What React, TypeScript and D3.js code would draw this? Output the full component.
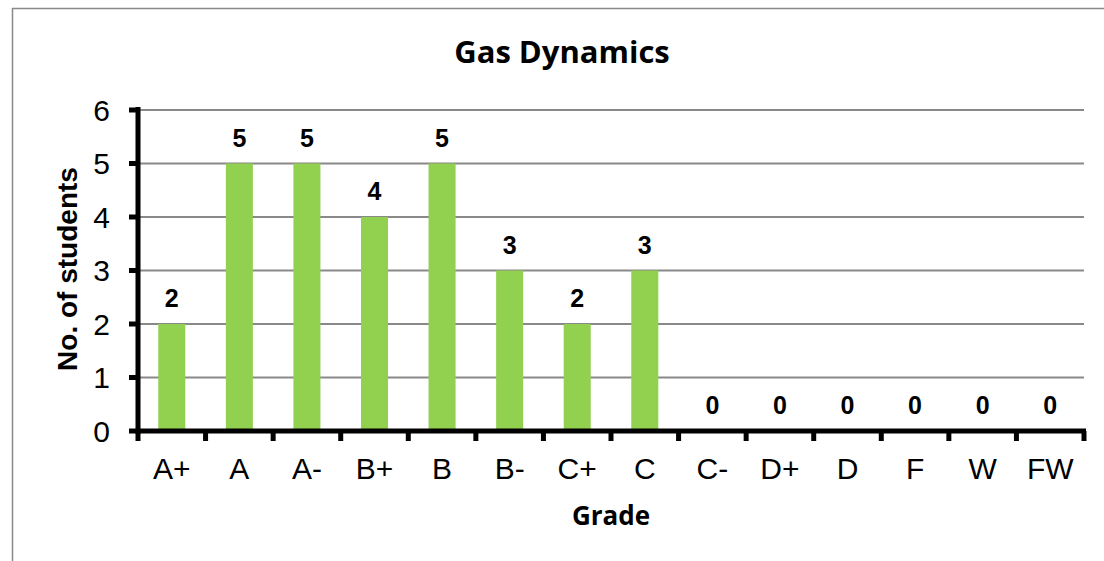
import * as React from 'react'
import * as d3 from 'd3'

const grades = ['A+', 'A', 'A-', 'B+', 'B', 'B-', 'C+', 'C', 'C-', 'D+', 'D', 'F', 'W', 'FW']
const students = [2, 5, 5, 4, 5, 3, 2, 3, 0, 0, 0, 0, 0, 0]
const yTicks = [0, 1, 2, 3, 4, 5, 6]

const W = 1104
const H = 561
const left = 138
const right = 1084
const top = 110
const bottom = 431

const sans = '"Liberation Sans", Arial, sans-serif'
const calibri = '"Open Sans", Lato, sans-serif'

export default function App() {
  const x = d3.scaleBand<string>().domain(grades).range([left, right]).paddingInner(0.6).paddingOuter(0.3)
  const y = d3.scaleLinear().domain([0, 6]).range([bottom, top])
  const step = x.step()
  const bounds = d3.range(grades.length + 1).map((i) => left + i * step)

  return (
    <div style={{ position: 'absolute', left: 0, top: 0 }}>
      <svg width={W} height={H} style={{ display: 'block', background: '#fff' }}>
        <rect x={12.5} y={8.5} width={1200} height={700} fill="#fff" stroke="#898989" strokeWidth={1.5} />

        <text x={562} y={63} textAnchor="middle" fontFamily={calibri} fontWeight="bold" fontSize={31} fill="#000">
          Gas Dynamics
        </text>

        {/* gridlines */}
        {yTicks.slice(1).map((t) => (
          <line key={t} x1={left} x2={right} y1={y(t)} y2={y(t)} stroke="#898989" strokeWidth={2} />
        ))}

        {/* bars */}
        {grades.map((g, i) => (
          <rect
            key={g}
            x={x(g)}
            y={y(students[i])}
            width={x.bandwidth()}
            height={bottom - y(students[i])}
            fill="#92D050"
          />
        ))}

        {/* data labels */}
        {grades.map((g, i) => (
          <text
            key={g}
            x={(x(g) ?? 0) + x.bandwidth() / 2}
            y={y(students[i]) - 17}
            textAnchor="middle"
            fontFamily={sans}
            fontWeight="bold"
            fontSize={25}
            fill="#000"
          >
            {students[i]}
          </text>
        ))}

        {/* y axis */}
        <line x1={left} x2={left} y1={top - 3} y2={bottom + 3} stroke="#000" strokeWidth={5} />
        {yTicks.map((t) => (
          <g key={t}>
            <line x1={left - 9} x2={left} y1={y(t)} y2={y(t)} stroke="#000" strokeWidth={5} />
            <text
              x={110}
              y={y(t)}
              dy="0.36em"
              textAnchor="end"
              fontFamily={sans}
              fontSize={30}
              fill="#000"
            >
              {t}
            </text>
          </g>
        ))}

        {/* x axis */}
        <line x1={left} x2={right + 2} y1={bottom} y2={bottom} stroke="#000" strokeWidth={5} />
        {bounds.map((b, i) => (
          <line key={i} x1={b} x2={b} y1={bottom} y2={bottom + 10} stroke="#000" strokeWidth={5} />
        ))}
        {grades.map((g) => (
          <text
            key={g}
            x={(x(g) ?? 0) + x.bandwidth() / 2}
            y={479}
            textAnchor="middle"
            fontFamily={sans}
            fontSize={30}
            fill="#000"
          >
            {g}
          </text>
        ))}

        <text x={611} y={525} textAnchor="middle" fontFamily={calibri} fontWeight="bold" fontSize={26} fill="#000">
          Grade
        </text>
        <text
          transform={`translate(77,269) rotate(-90)`}
          textAnchor="middle"
          fontFamily={sans}
          fontWeight="bold"
          fontSize={28}
          fill="#000"
        >
          No. of students
        </text>
      </svg>
    </div>
  )
}
